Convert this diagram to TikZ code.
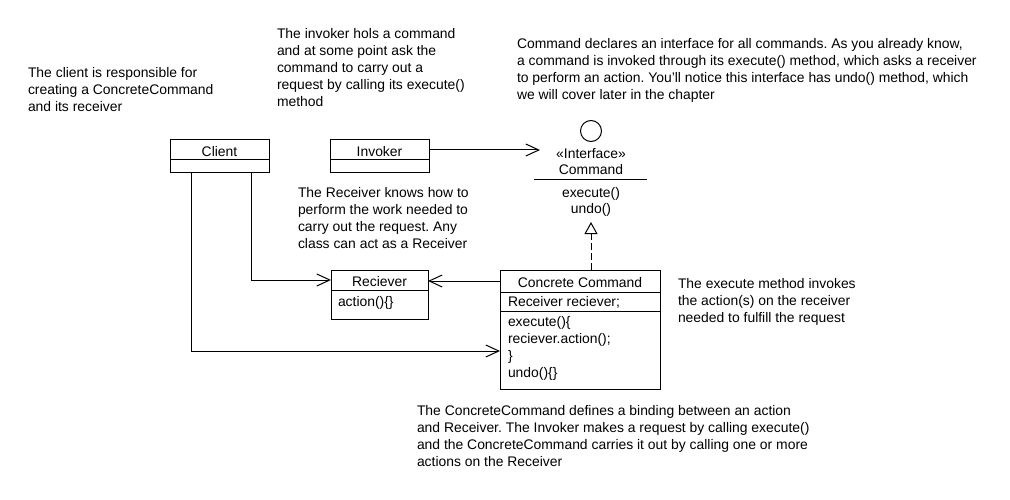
\documentclass[tikz,border=0pt]{standalone}
\usepackage{fontspec}
\setmainfont{Liberation Sans}
\usetikzlibrary{arrows.meta,calc}
\frenchspacing
\begin{document}
\begin{tikzpicture}[x=1pt,y=-1pt,line width=1pt,
  txt/.style={font=\fontsize{13.9}{17}\selectfont, inner sep=0pt, outer sep=0pt},
  note/.style={txt, anchor=north west, align=left},
  label/.style={txt, anchor=base},
  lefttxt/.style={txt, anchor=base west},
  row/.style={draw, txt, anchor=north west, text height=13, text depth=0},
  arr/.style={-{Straight Barb[length=13pt,width=12pt]}},
  realize/.style={dash pattern=on 7pt off 3pt, -{Triangle[open,length=12pt,width=13pt]}}]
\fill[white] (0,0) rectangle (1010,500);
\useasboundingbox (0,0) rectangle (1010,500);

% notes
\node[note] (nclient) at (28,67.3) {The client is responsible for\\creating a ConcreteCommand\\and its receiver};
\node[note] (ninvoker) at (277,28.3) {The invoker hols a command\\and at some point ask the\\command to carry out a\\request by calling its execute()\\method};
\node[note] (ncommand) at (517,38.3) {Command declares an interface for all commands. As you already know,\\a command is invoked through its execute() method, which asks a receiver\\to perform an action. You'll notice this interface has undo() method, which\\we will cover later in the chapter};
\node[note] (nreceiver) at (298,187.3) {The Receiver knows how to\\perform the work needed to\\carry out the request. Any\\class can act as a Receiver};
\node[note] (nexecute) at (678,278.3) {The execute method invokes\\the action(s) on the receiver\\needed to fulfill the request};
\node[note] (ncc) at (417,405.3) {The ConcreteCommand defines a binding between an action\\and Receiver. The Invoker makes a request by calling execute()\\and the ConcreteCommand carries it out by calling one or more\\actions on the Receiver};

% Client
\node[row, minimum width=99, minimum height=20] (client) at (170,140) {Client};
\node[row, minimum width=99, minimum height=9, anchor=north] (clientb) at (client.south) {};
% Invoker
\node[row, minimum width=99, minimum height=20] (invoker) at (330,140) {Invoker};
\node[row, minimum width=99, minimum height=9, anchor=north] (invokerb) at (invoker.south) {};

% Reciever
\node[row, minimum width=97, minimum height=20] (recv) at (331,270) {Reciever};
\node[row, minimum width=97, minimum height=29, anchor=north] (recvb) at (recv.south) {};
\node[lefttxt] (recvop) at ($(recvb.north west)+(7,16.7)$) {action()\{\}};

% Concrete Command
\node[row, minimum width=160, minimum height=22] (cc) at (500,270) {Concrete Command};
\node[row, minimum width=160, minimum height=19, anchor=north] (ccattr) at (cc.south) {};
\node[row, minimum width=160, minimum height=78, anchor=north] (ccops) at (ccattr.south) {};
\node[lefttxt] (ccattrtxt) at ($(ccattr.north west)+(8,14.7)$) {Receiver reciever;};
\node[lefttxt] (ccop1) at ($(ccops.north west)+(8,15)$) {execute()\{};
\node[lefttxt] (ccop2) at ($(ccops.north west)+(8,32)$) {reciever.action();};
\node[lefttxt] (ccop3) at ($(ccops.north west)+(8,49)$) {\}};
\node[lefttxt] (ccop4) at ($(ccops.north west)+(8,66)$) {undo()\{\}};

% Interface Command
\node[draw, circle, minimum size=21, inner sep=0pt] (iface) at (591,131) {};
\node[label] (istereo) at (591,159) {«Interface»};
\node[label] (iname) at (591,175) {Command};
\draw (534,180) -- (647,180);
\node[label] (iop1) at (591,197) {execute()};
\node[label] (iop2) at (591,214) {undo()};
\coordinate (tri) at (591,222);
\coordinate (cmdtip) at (540,150);

% connectors
\coordinate (cl1) at ($(clientb.south west)+(21,0)$);
\coordinate (cl2) at ($(clientb.south west)+(81,0)$);
\coordinate (ccin) at ($(ccops.north west)+(0,40)$);
\draw[arr] (invoker.east) -- (cmdtip);
\draw[realize] (cc.north -| tri) -- (tri);
\draw[arr] (cc.west) -- (cc.west -| recv.east);
\draw[arr] (cl2) |- (recv.west);
\draw[arr] (cl1) |- (ccin);
\end{tikzpicture}
\end{document}
